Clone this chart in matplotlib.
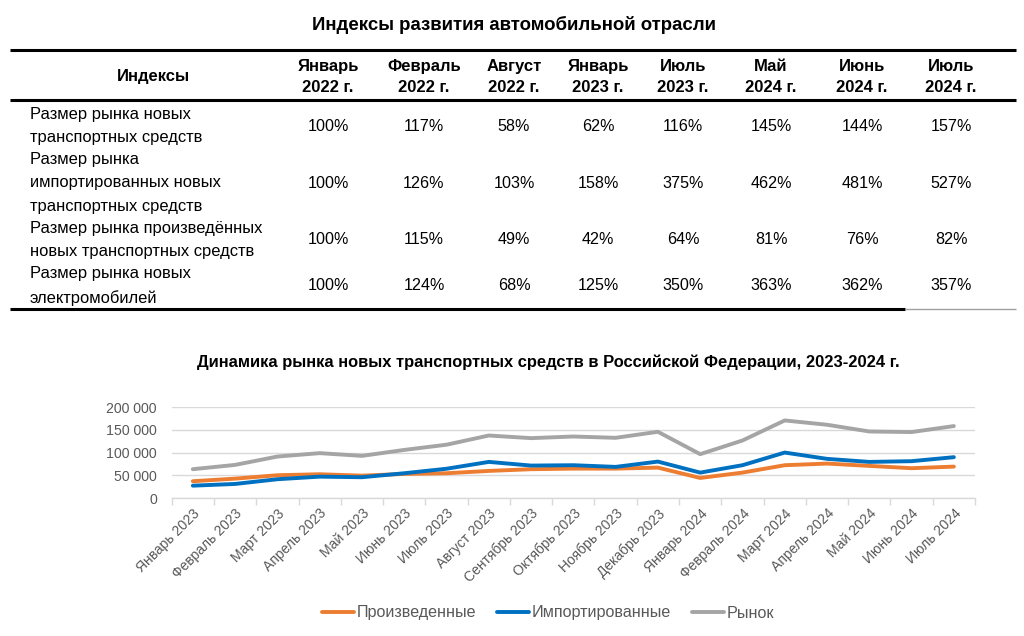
import matplotlib
matplotlib.use("Agg")
import matplotlib.pyplot as plt
from matplotlib.lines import Line2D
from matplotlib.ticker import FuncFormatter

W, H = 1024, 636

# --- table data ---
table_title = "Индексы развития автомобильной отрасли"
col_headers = ["Январь\n2022 г.", "Февраль\n2022 г.", "Август\n2022 г.", "Январь\n2023 г.",
               "Июль\n2023 г.", "Май\n2024 г.", "Июнь\n2024 г.", "Июль\n2024 г."]
row_labels = ["Размер рынка новых\nтранспортных средств",
              "Размер рынка\nимпортированных новых\nтранспортных средств",
              "Размер рынка произведённых\nновых транспортных средств",
              "Размер рынка новых\nэлектромобилей"]
idx_new = [100, 117, 58, 62, 116, 145, 144, 157]
idx_import = [100, 126, 103, 158, 375, 462, 481, 527]
idx_local = [100, 115, 49, 42, 64, 81, 76, 82]
idx_ev = [100, 124, 68, 125, 350, 363, 362, 357]
table_rows = [idx_new, idx_import, idx_local, idx_ev]

# --- chart data ---
chart_title = "Динамика рынка новых транспортных средств в Российской Федерации, 2023-2024 г."
months = ["Январь 2023", "Февраль 2023", "Март 2023", "Апрель 2023", "Май 2023", "Июнь 2023",
          "Июль 2023", "Август 2023", "Сентябрь 2023", "Октябрь 2023", "Ноябрь 2023",
          "Декабрь 2023", "Январь 2024", "Февраль 2024", "Март 2024", "Апрель 2024",
          "Май 2024", "Июнь 2024", "Июль 2024"]
produced = [37000, 42700, 50200, 52400, 49300, 53100, 54600, 59700, 63500, 64800, 64800,
            67000, 44200, 56000, 72300, 75900, 70800, 65700, 69200]
imported = [27200, 31000, 41400, 47100, 45800, 54600, 64500, 79600, 71500, 72300, 68600,
            80300, 56000, 72300, 100200, 86300, 79600, 81200, 90000]
market = [63500, 73000, 91400, 98900, 92900, 106000, 117500, 137800, 132000, 135600, 132700,
          146000, 96700, 126800, 171000, 161500, 146700, 145400, 158600]

plt.rcParams["font.family"] = ["Liberation Sans", "DejaVu Sans"]

fig = plt.figure(figsize=(W / 100, H / 100), dpi=100)


def fx(x):
    return x / W


def fy(y):
    return 1 - y / H


def hline(x0, x1, y, lw, color="black"):
    fig.add_artist(Line2D([fx(x0), fx(x1)], [fy(y), fy(y)], lw=lw, color=color,
                          transform=fig.transFigure, solid_capstyle="butt"))


# table
fig.text(fx(514), fy(25), table_title, ha="center", va="center", fontsize=13.4,
         fontweight="bold")
hline(10, 1016, 50, 2.2)
hline(10, 1016, 100, 2.2)
hline(10, 905, 309, 2.2)
hline(905, 1016, 309, 1.0, "#a0a0a0")

col_x = [328, 424, 514, 598, 683, 771, 862, 951]
fig.text(fx(153), fy(77), "Индексы", ha="center", va="center", fontsize=12,
         fontweight="bold")
for x, h in zip(col_x, col_headers):
    fig.text(fx(x), fy(77), h, ha="center", va="center", fontsize=12,
             fontweight="bold", linespacing=1.55)

row_y = [126, 183, 240, 286]
for y, lab, vals in zip(row_y, row_labels, table_rows):
    fig.text(fx(30), fy(y), lab, ha="left", va="center", fontsize=11.9,
             linespacing=1.68)
    for x, v in zip(col_x, vals):
        fig.text(fx(x), fy(y), f"{v}%", ha="center", va="center", fontsize=11.6)

# chart
fig.text(fx(548), fy(362), chart_title, ha="center", va="center", fontsize=11.9,
         fontweight="bold")

ax = fig.add_axes([fx(171.7), fy(498), fx(975) - fx(171.7), fy(407.3) - fy(498)])
xs = list(range(len(months)))
ax.plot(xs, produced, color="#ED7D31", lw=2.8, label="Произведенные", solid_capstyle="round")
ax.plot(xs, imported, color="#0070C0", lw=2.8, label="Импортированные", solid_capstyle="round")
ax.plot(xs, market, color="#A5A5A5", lw=2.8, label="Рынок", solid_capstyle="round")

ax.set_xlim(-0.5, len(months) - 0.5)
ax.set_ylim(0, 200000)
ax.set_yticks([0, 50000, 100000, 150000, 200000])
ax.yaxis.set_major_formatter(FuncFormatter(lambda v, p: f"{int(v):,}".replace(",", " ")))
ax.grid(axis="y", color="#D9D9D9", lw=1)
ax.set_axisbelow(True)
for s in ["top", "right", "left"]:
    ax.spines[s].set_visible(False)
ax.spines["bottom"].set_color("#D9D9D9")
ax.spines["bottom"].set_linewidth(1)

ax.set_xticks([i - 0.5 for i in range(len(months) + 1)], minor=False)
ax.set_xticklabels([])
ax.set_xticks(xs, minor=True)
ax.set_xticklabels(months, minor=True, rotation=45, ha="right", rotation_mode="anchor",
                   fontsize=10, color="#595959")
ax.tick_params(axis="x", which="major", length=5, color="#D9D9D9", width=1)
ax.tick_params(axis="x", which="minor", length=0, pad=6)
ax.tick_params(axis="y", length=0, labelsize=10.2, labelcolor="#595959", pad=10.6)

ax.legend(loc="center", bbox_to_anchor=(fx(548), fy(613)), bbox_transform=fig.transFigure,
          ncol=3, frameon=False, fontsize=11.6, handlelength=2.0, columnspacing=1.3,
          handletextpad=0.15, labelcolor="#595959")

fig.savefig("out.png", dpi=100)
